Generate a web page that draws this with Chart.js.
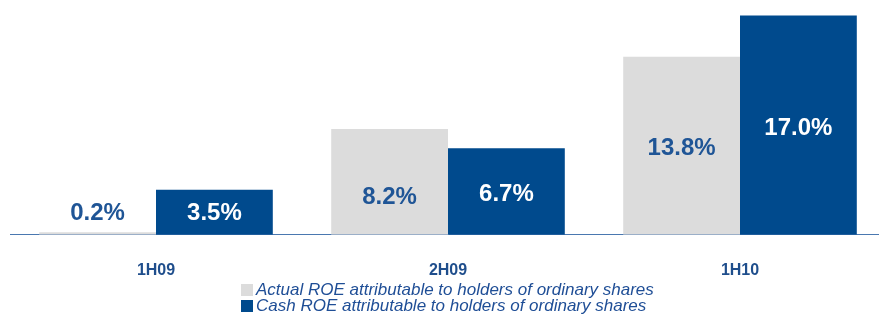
<!DOCTYPE html>
<html>
<head>
<meta charset="utf-8">
<script src="https://cdn.jsdelivr.net/npm/chart.js@4.4.0/dist/chart.umd.min.js"></script>
<style>
  html, body { margin: 0; padding: 0; background: #fff; overflow: hidden; }
  #wrap { position: relative; width: 900px; height: 314px; }
  #legend { position: absolute; left: 241px; top: 282px; font: italic 17px "Liberation Sans", Arial, sans-serif; color: #1f4e96; line-height: 16px; }
  #legend div { display: flex; align-items: center; white-space: nowrap; }
  #legend span.box { display: inline-block; width: 12px; height: 12px; margin-right: 3px; }
</style>
</head>
<body>
<div id="wrap">
  <canvas id="roe" width="900" height="314"></canvas>
  <div id="legend"></div>
</div>
<script>
  const periods = ['1H09', '2H09', '1H10'];
  const actualRoe = [0.2, 8.2, 13.8];
  const cashRoe = [3.5, 6.7, 17.0];
  const seriesNames = [
    'Actual ROE attributable to holders of ordinary shares',
    'Cash ROE attributable to holders of ordinary shares'
  ];

  const GREY = '#dcdcdc';
  const BLUE = '#004a8d';
  const TEXT_BLUE = '#1f5596';
  // small vertical nudges for the value labels (px), per series then period
  const labelNudge = [[0, 15, 3], [1, 3, 3]];

  // value labels: centred in the bar, or just above it when the bar is too short
  const barLabels = {
    id: 'barLabels',
    afterDatasetsDraw(chart) {
      const ctx = chart.ctx;
      ctx.save();
      ctx.font = 'bold 24px "Liberation Sans", Arial, sans-serif';
      ctx.textAlign = 'center';
      ctx.textBaseline = 'middle';
      chart.data.datasets.forEach((ds, di) => {
        chart.getDatasetMeta(di).data.forEach((bar, i) => {
          const h = bar.base - bar.y;
          let y = (bar.y + bar.base) / 2;
          if (h < 30) y = bar.base - 21;
          y += labelNudge[di][i];
          ctx.fillStyle = (di === 1 && h >= 30) ? '#ffffff' : TEXT_BLUE;
          ctx.fillText(ds.data[i].toFixed(1) + '%', bar.x, y);
        });
      });
      ctx.restore();
    }
  };

  new Chart(document.getElementById('roe'), {
    type: 'bar',
    data: {
      labels: periods,
      datasets: [
        { label: seriesNames[0], data: actualRoe, backgroundColor: GREY },
        { label: seriesNames[1], data: cashRoe, backgroundColor: BLUE }
      ]
    },
    options: {
      responsive: false,
      animation: false,
      layout: { padding: { left: 10, right: 14, top: 0, bottom: 8 } },
      datasets: { bar: { categoryPercentage: 0.8, barPercentage: 1.0 } },
      plugins: { legend: { display: false }, tooltip: { enabled: false } },
      scales: {
        x: {
          grid: { display: false, drawTicks: false },
          border: { display: true, color: '#4a78b0', width: 1 },
          ticks: { color: '#1f4e8c', padding: 26, font: { family: '"Liberation Sans", Arial, sans-serif', size: 16, weight: 'bold' } }
        },
        y: { display: false, min: 0, max: 18.2 }
      }
    },
    plugins: [barLabels]
  });

  const legend = document.getElementById('legend');
  [GREY, BLUE].forEach((c, i) => {
    const row = document.createElement('div');
    row.innerHTML = '<span class="box" style="background:' + c + '"></span>' + seriesNames[i];
    legend.appendChild(row);
  });
</script>
</body>
</html>
